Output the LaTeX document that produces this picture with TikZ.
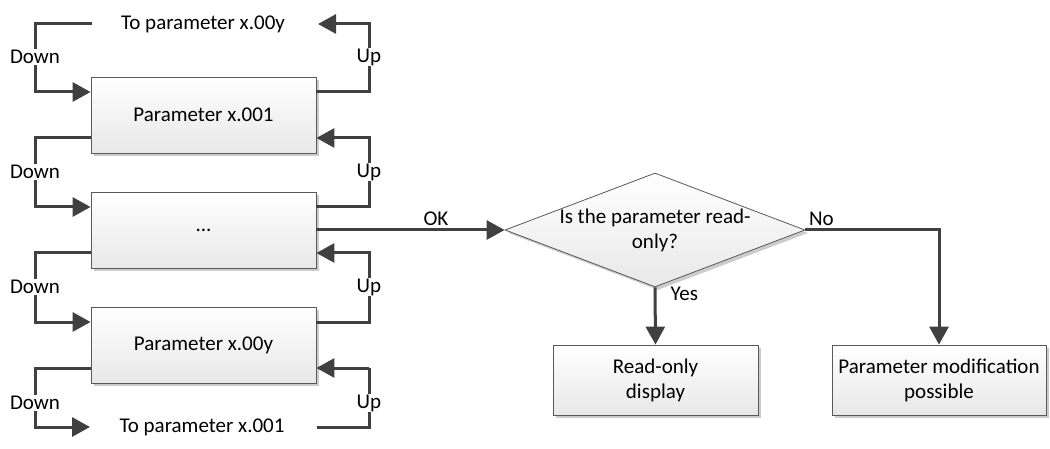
\documentclass[tikz,border=0pt]{standalone}
\usepackage{fontspec}
\setmainfont{Carlito}
\usetikzlibrary{arrows.meta,shapes.geometric,shadows}
\definecolor{ln}{HTML}{404040}
\definecolor{bd}{HTML}{595959}
\begin{document}
\begin{tikzpicture}[x=1pt,y=-1pt,
  font=\fontsize{21}{25}\selectfont,
  pbox/.style={draw=bd,line width=0.8pt,top color=white,bottom color=black!9,
    drop shadow={shadow xshift=3pt,shadow yshift=-3pt,fill=black!20,opacity=1},
    minimum width=225pt,minimum height=76pt,inner sep=0pt,align=center},
  dia/.style={diamond,draw=bd,line width=0.8pt,top color=white,bottom color=black!9,
    drop shadow={shadow xshift=3pt,shadow yshift=-3pt,fill=black!20,opacity=1},
    minimum width=300pt,minimum height=114pt,inner sep=0pt},
  arr/.style={draw=ln,line width=3pt,-{Triangle[length=18pt,width=19pt]}},
  ln/.style={draw=ln,line width=3pt},
  lab/.style={fill=white,inner sep=1pt},
  plain/.style={inner sep=1pt}]
\useasboundingbox (0,0) rectangle (1050,449);

\node[pbox] (b1) at (203.5,115) {Parameter x.001};
\node[pbox] (b2) at (203.5,230) {...};
\node[pbox] (b3) at (203.5,345) {Parameter x.00y};

\node[plain] (t1) at (203,24) {To parameter x.00y};
\node[plain] (t2) at (202,427) {To parameter x.001};
\coordinate (tL) at (92,24);
\coordinate (tR) at (318,24);
\coordinate (bL) at (90,427);
\coordinate (bR) at (317,427);

% left (Down) loops
\draw[arr] (tL) -- (35,24) -- (35,92) -- ([yshift=23pt]b1.west);
\draw[arr] ([yshift=-23pt]b1.west) -- (35,138) -- (35,207) -- ([yshift=23pt]b2.west);
\draw[arr] ([yshift=-23pt]b2.west) -- (35,253) -- (35,322) -- ([yshift=23pt]b3.west);
\draw[arr] ([yshift=-23pt]b3.west) -- (35,368) -- (35,427) -- (bL);

% right (Up) loops
\draw[arr] ([yshift=23pt]b1.east) -- (369,92) -- (369,24) -- (tR);
\draw[arr] ([yshift=23pt]b2.east) -- (369,207) -- (369,138) -- ([yshift=-23pt]b1.east);
\draw[arr] ([yshift=23pt]b3.east) -- (369,322) -- (369,253) -- ([yshift=-23pt]b2.east);
\draw[ln] (bR) -- (369,427) -- (369,368);
\draw[arr] (369,368) -- ([yshift=-23pt]b3.east);

\foreach \y/\n in {57/a,172/b,287/c,403/d}{
  \node[lab] (dn\n) at (35,\y) {Down};
  \node[lab] (up\n) at (369,\y) {Up};
}

% decision
\node[dia] (d) at (655,230) {};
\node[align=center,inner sep=0pt] (dt) at (655,230) {Is the parameter read-\\only?};
\node[pbox,minimum width=205pt,minimum height=70pt] (ro) at (655.5,380) {Read-only\\display};
\node[pbox,minimum width=214pt,minimum height=70pt] (pm) at (939,380) {Parameter modification\\possible};

\draw[arr] (b2.east) -- node[pos=0.635,above=2pt,plain] (ok) {OK} (d.west);
\draw[arr] (d.south) -- node[pos=0.12,right=13pt,plain] (yes) {Yes} (ro.north);
\draw[arr] (d.east) -| node[pos=0.06,above=2pt,plain] (no) {No} (pm.north);
\end{tikzpicture}
\end{document}
